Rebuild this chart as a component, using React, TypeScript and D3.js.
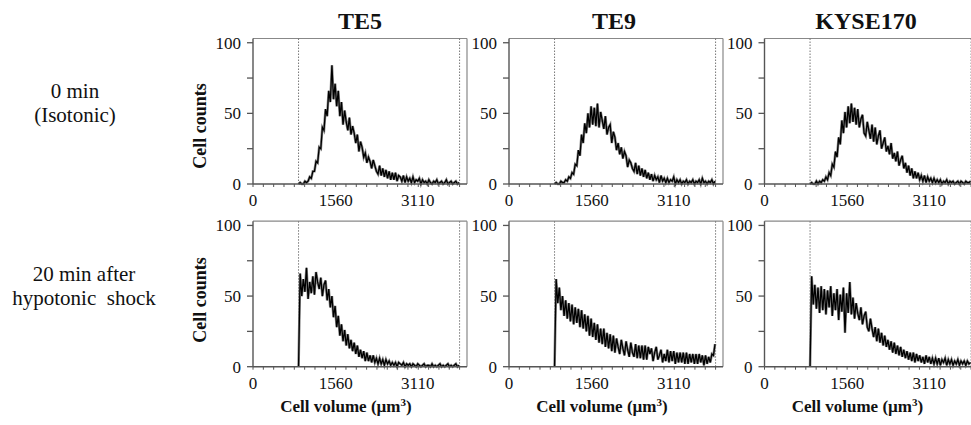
import React from 'react';
import * as d3 from 'd3';

// panel titles and row captions
const cellLines = ['TE5', 'TE9', 'KYSE170'];
const conditions = [['0 min', '(Isotonic)'], ['20 min after', 'hypotonic  shock']];
const xTickLabels = [0, 1560, 3110];
const yTicks = [0, 25, 50, 75, 100];
const yTickLabels = [0, 50, 100];
const xMinorStep = 195;
const gateLow = 860;
const gateHigh = 3900;
const binStart = 860;
const binWidth = 30;

// cell counts per volume bin (bins of 30 um3 starting at 860)
const te5Iso = [0,1,0,0,2,1,2,5,4,9, 9,16,15,26,25,40,38,53,48,66, 58,84,60,71,55,66,48,58,42,52,
  44,38,47,35,41,36,29,35,23,30, 26,19,22,15,19,16,11,17,13,9, 7,13,6,11,5,10,4,9,3,8,
  3,8,2,6,5,2,6,1,5,2, 4,1,5,1,3,2,4,0,3,1, 2,0,3,1,0,2,1,3,0,1, 2,0,1,3,0,1,2,0,1,2, 0,1];
const te9Iso = [0,1,0,0,2,1,1,3,2,5, 4,8,7,14,13,24,20,35,29,43, 36,50,40,55,42,54,41,57,40,51,
  45,39,48,35,40,42,29,37,33,24, 29,21,26,18,23,20,12,17,15,11, 9,15,7,13,6,11,5,10,4,8,
  3,7,2,6,3,5,1,6,2,4, 1,4,1,3,2,5,0,3,1,3, 0,2,1,3,0,2,1,3,0,2, 1,3,0,4,1,2,0,2,1,3, 0,2];
const kyseIso = [0,1,0,0,2,0,2,1,3,2, 5,3,8,6,14,12,23,19,33,28, 45,36,51,40,55,43,57,44,54,42,
  53,40,46,49,36,34,44,38,32,42, 30,40,28,34,38,25,29,33,23,27, 21,29,18,22,16,23,13,17,20,11,
  15,8,13,6,11,4,9,4,8,3, 6,2,6,1,5,2,4,1,4,1, 3,1,3,0,2,1,3,0,2,1, 2,0,1,2,0,2,1,0,2,1, 1,2];
const te5Hypo = [0,66,50,62,53,70,48,60,52,64, 51,67,60,55,63,50,58,61,47,55, 42,50,35,43,28,36,22,30,18,26,
  15,23,13,19,11,17,9,15,7,12, 6,11,4,10,4,8,3,8,3,6, 2,6,2,5,1,5,2,4,1,3,
  1,3,0,3,2,1,3,0,2,1, 2,0,2,1,0,2,1,0,1,2, 0,1,1,0,2,0,1,0,1,2, 0,1,0,1,2,0,1,0,1,2, 0,1];
const te9Hypo = [0,62,45,56,40,50,36,47,34,45, 32,44,30,42,31,41,28,40,27,37, 25,36,22,34,21,31,19,30,17,27,
  16,27,14,24,13,23,11,22,10,20, 14,9,19,13,8,18,12,7,17,10, 7,16,6,15,6,15,5,15,5,14,
  9,13,4,10,14,5,8,12,3,9, 4,12,3,11,4,11,2,10,3,10, 3,10,2,10,2,9,3,9,2,9, 2,9,3,8,1,8,2,7,3,9, 8,16];
const kyseHypo = [0,64,44,58,41,56,38,57,40,55, 37,54,42,57,36,52,40,55,33,51, 39,56,24,52,38,60,37,49,34,45,
  38,33,42,30,36,39,28,25,34,27, 21,28,18,27,17,24,15,22,14,19, 12,18,10,17,9,15,8,14,7,12,
  6,11,5,10,4,10,3,9,4,8, 3,7,2,8,3,7,2,6,2,6, 2,6,1,5,3,6,1,5,2,5, 1,4,2,5,1,4,2,4,1,4, 2,3];

const series = [
  [te5Iso, te9Iso, kyseIso],
  [te5Hypo, te9Hypo, kyseHypo],
];

// layout
const colLeft = [253, 509, 764.5];
const titleX = [360, 614, 866];
const rowBase = [184, 366.7];
const countsY = [126, 300];
const captionX = [75, 84];
const captionY = [[98, 122], [281, 305]];
const plotW = 214;
const plotH = 145.5;
const xMax = 4040;
const yMax = 103;

const serif = {fontFamily: "'Liberation Serif', 'Times New Roman', serif"};

function Panel({left, base, counts, showXTitle}) {
  const x = d3.scaleLinear().domain([0, xMax]).range([left, left + plotW]);
  const y = d3.scaleLinear().domain([0, yMax]).range([base, base - plotH]);
  const top = y(yMax);

  const line = d3.line<number>()
    .x((d, i) => x(binStart + i * binWidth))
    .y(d => y(d));
  const d = line(counts) || '';

  const minor = d3.range(0, xMax, xMinorStep);

  return (
    <g>
      {/* frame */}
      <line x1={left} x2={left + plotW} y1={top} y2={top} stroke="#888" strokeWidth={1.2} />
      <line x1={left + plotW} x2={left + plotW} y1={top} y2={base} stroke="#888" strokeWidth={1.2} />

      {/* gates */}
      {[gateLow, gateHigh].map(g => (
        <line key={g} x1={x(g)} x2={x(g)} y1={top} y2={base}
          stroke="#777" strokeWidth={1} strokeDasharray="1.5,1.5" />
      ))}

      {/* grey halo under the trace, like the scanned original */}
      <path d={d} fill="none" stroke="#8a8a8a" strokeWidth={2.6} />
      <path d={d} fill="none" stroke="#000" strokeWidth={1.3} />

      {/* y axis */}
      <line x1={left} x2={left} y1={top} y2={base} stroke="#555" strokeWidth={1.4} />
      {yTicks.map(t => (
        <line key={t} x1={left - 6} x2={left} y1={y(t)} y2={y(t)} stroke="#555" strokeWidth={1.3} />
      ))}
      {yTickLabels.map(t => (
        <text key={t} x={left - 12} y={y(t)} dy="0.35em" textAnchor="end"
          style={serif} fontSize={17} fill="#111">{t}</text>
      ))}

      {/* x axis */}
      <line x1={left} x2={left + plotW} y1={base} y2={base} stroke="#555" strokeWidth={1.4} />
      {minor.map(t => (
        <line key={t} x1={x(t)} x2={x(t)} y1={base} y2={base + 3} stroke="#555" strokeWidth={1} />
      ))}
      {xTickLabels.map(t => (
        <text key={t} x={x(t)} y={base + 22} textAnchor="middle"
          style={serif} fontSize={17} fill="#111">{t}</text>
      ))}

      {showXTitle && (
        <text x={left + 93} y={base + 45} textAnchor="middle" style={serif}
          fontSize={17} fontWeight="bold" fill="#111">
          Cell volume (µm<tspan dy="-6" fontSize={11}>3</tspan><tspan dy="6">)</tspan>
        </text>
      )}
    </g>
  );
}

export default function App() {
  return (
    <svg width={971} height={425} style={{position: 'absolute', left: 0, top: 0, background: '#fff'}}>
      {cellLines.map((name, c) => (
        <text key={name} x={titleX[c]} y={28.5} textAnchor="middle" style={serif}
          fontSize={24} fontWeight="bold" fill="#111">{name}</text>
      ))}

      {conditions.map((lines, r) => (
        <g key={r}>
          {lines.map((s, k) => (
            <text key={k} x={captionX[r]} y={captionY[r][k]} textAnchor="middle"
              style={{...serif, whiteSpace: 'pre'}} fontSize={21} fill="#111">{s}</text>
          ))}
          <text transform={`translate(206,${countsY[r]}) rotate(-90)`} textAnchor="middle"
            style={serif} fontSize={18} fontWeight="bold" fill="#111">Cell counts</text>
        </g>
      ))}

      {series.map((row, r) =>
        row.map((counts, c) => (
          <Panel key={`${r}-${c}`} left={colLeft[c]} base={rowBase[r]} counts={counts}
            showXTitle={r === 1} />
        ))
      )}
    </svg>
  );
}
